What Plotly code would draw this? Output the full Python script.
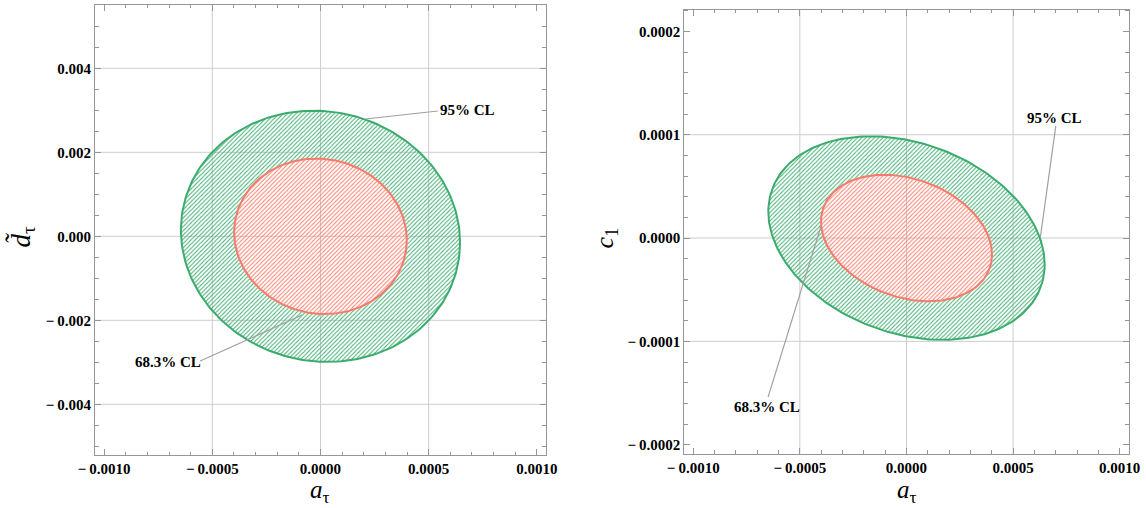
import numpy as np
import plotly.graph_objects as go

# ---------------- data ----------------
cl_labels = ["68.3% CL", "95% CL"]

# left panel: a_tau vs d~_tau  (centre, half-extent in x, half-extent in y, correlation)
left_center = (0.0, 0.0)
left_x_half = [0.000399, 0.000645]
left_y_half = [0.00185, 0.00299]
left_rho = -0.05

# right panel: a_tau vs c_1
right_center = (0.0, 0.0)
right_x_half = [0.000401, 0.000648]
right_y_half = [6.12e-05, 9.85e-05]
right_rho = -0.26

x_tickvals = [-0.0010, -0.0005, 0.0, 0.0005, 0.0010]
x_ticktext = ["\u2212\u20090.0010", "\u2212\u20090.0005", "0.0000", "0.0005", "0.0010"]
left_y_tickvals = [-0.004, -0.002, 0.0, 0.002, 0.004]
left_y_ticktext = ["\u2212\u20090.004", "\u2212\u20090.002", "0.000", "0.002", "0.004"]
right_y_tickvals = [-0.0002, -0.0001, 0.0, 0.0001, 0.0002]
right_y_ticktext = ["\u2212\u20090.0002", "\u2212\u20090.0001", "0.0000", "0.0001", "0.0002"]

left_x_grid = [-0.0005, 0.0, 0.0005]
left_y_grid = [-0.004, -0.002, 0.0, 0.002, 0.004]
right_x_grid = [-0.0005, 0.0, 0.0005]
right_y_grid = [-0.0001, 0.0, 0.0001]

# ---------------- styling ----------------
GREEN = "rgb(60,172,110)"
RED = "rgb(248,122,106)"
GRID = "rgb(205,205,205)"
FRAME = "rgb(150,150,150)"
FONT = "Liberation Serif"
CLEAR = "rgba(255,255,255,0.02)"


def ellipse(center, xh, yh, rho, n=240):
    t = np.linspace(0, 2 * np.pi, n)
    x = center[0] + xh * np.cos(t)
    y = center[1] + yh * (rho * np.cos(t) + np.sqrt(1 - rho ** 2) * np.sin(t))
    return x, y


fig = go.Figure()


def add_panel(xa, ya, center, xhs, yhs, rho):
    xi, yi = ellipse(center, xhs[0], yhs[0], rho)
    xo, yo = ellipse(center, xhs[1], yhs[1], rho)
    # green annulus (outer then inner reversed)
    ax = np.concatenate([xo, xi[::-1], [xo[0]]])
    ay = np.concatenate([yo, yi[::-1], [yo[0]]])
    fig.add_trace(go.Scatter(x=ax, y=ay, mode="lines", fill="toself", fillcolor=CLEAR,
                             line=dict(width=0, color=GREEN),
                             fillpattern=dict(shape="/", fgcolor=GREEN, bgcolor=CLEAR,
                                              fgopacity=1, size=3, solidity=0.34),
                             xaxis=xa, yaxis=ya, hoverinfo="skip", showlegend=False))
    fig.add_trace(go.Scatter(x=xi, y=yi, mode="lines", fill="toself", fillcolor=CLEAR,
                             line=dict(width=0, color=RED),
                             fillpattern=dict(shape="/", fgcolor=RED, bgcolor=CLEAR,
                                              fgopacity=1, size=3, solidity=0.34),
                             xaxis=xa, yaxis=ya, hoverinfo="skip", showlegend=False))
    fig.add_trace(go.Scatter(x=xo, y=yo, mode="lines", line=dict(width=2, color=GREEN),
                             xaxis=xa, yaxis=ya, hoverinfo="skip", showlegend=False))
    fig.add_trace(go.Scatter(x=xi, y=yi, mode="lines", line=dict(width=2, color=RED),
                             xaxis=xa, yaxis=ya, hoverinfo="skip", showlegend=False))


add_panel("x", "y", left_center, left_x_half, left_y_half, left_rho)
add_panel("x2", "y2", right_center, right_x_half, right_y_half, right_rho)

shapes = []
for xr, yr, gx, gy in [("x", "y", left_x_grid, left_y_grid),
                       ("x2", "y2", right_x_grid, right_y_grid)]:
    for v in gx:
        shapes.append(dict(type="line", xref=xr, yref=yr + " domain", x0=v, x1=v, y0=0, y1=1,
                           line=dict(color=GRID, width=1), layer="below"))
    for v in gy:
        shapes.append(dict(type="line", xref=xr + " domain", yref=yr, x0=0, x1=1, y0=v, y1=v,
                           line=dict(color=GRID, width=1), layer="below"))

# leader lines for the CL labels
LEAD = "rgb(160,160,160)"
leaders = [
    ("x", "y", 0.000542, 0.002983, 0.000208, 0.002793),
    ("x", "y", -0.000556, -0.002969, -0.0000847, -0.001874),
    ("x2", "y2", 0.000700, 0.0001084, 0.000628, 0.0000010),
    ("x2", "y2", -0.000649, -0.0001539, -0.000401, 0.0000116),
]
for xr, yr, x0, y0, x1, y1 in leaders:
    shapes.append(dict(type="line", xref=xr, yref=yr, x0=x0, y0=y0, x1=x1, y1=y1,
                       line=dict(color=LEAD, width=1.2)))

annotations = [
    dict(x=0.000681, y=0.003007, xref="x", yref="y", text=cl_labels[1]),
    dict(x=-0.000706, y=-0.002993, xref="x", yref="y", text=cl_labels[0]),
    dict(x=0.000695, y=0.0001162, xref="x2", yref="y2", text=cl_labels[1]),
    dict(x=-0.000654, y=-0.0001636, xref="x2", yref="y2", text=cl_labels[0]),
]
for a in annotations:
    a.update(showarrow=False, font=dict(family=FONT, size=15, color="black"),
             xanchor="center", yanchor="middle")
    a["text"] = "<b>" + a["text"] + "</b>"

annotations += [
    dict(x=0.2795, y=0.032, xref="paper", yref="paper", text="<i>a</i><sub>τ</sub>",
         showarrow=False, font=dict(family=FONT, size=25, color="black"),
         xanchor="center", yanchor="middle"),
    dict(x=0.7915, y=0.032, xref="paper", yref="paper", text="<i>a</i><sub>τ</sub>",
         showarrow=False, font=dict(family=FONT, size=25, color="black"),
         xanchor="center", yanchor="middle"),
    dict(x=0.0195, y=0.535, xref="paper", yref="paper", text="<i>d\u0303</i><sub>τ</sub>",
         showarrow=False, font=dict(family=FONT, size=27, color="black"), textangle=-90,
         xanchor="center", yanchor="middle"),
    dict(x=0.5285, y=0.532, xref="paper", yref="paper", text="<i>c</i><sub>1</sub>",
         showarrow=False, font=dict(family=FONT, size=26, color="black"), textangle=-90,
         xanchor="center", yanchor="middle"),
]

tickfont = dict(family=FONT, size=15, color="black")


def bold(lst):
    return ["<b>" + s + "</b>" for s in lst]


def xaxis(domain, anchor):
    return dict(domain=domain, anchor=anchor, range=[-0.001042, 0.001042], automargin=False,
                tickvals=x_tickvals, ticktext=bold(x_ticktext), tickfont=tickfont,
                ticks="inside", ticklen=6, tickcolor=FRAME, showline=True, linecolor=FRAME,
                linewidth=1, mirror="ticks", showgrid=False, zeroline=False,
                minor=dict(dtick=0.0001, tick0=0, ticks="inside", ticklen=3.5,
                           tickcolor=FRAME, showgrid=False))


def yaxis(domain, anchor, rng, tv, tt, mdt):
    return dict(domain=domain, anchor=anchor, range=rng, tickvals=tv, ticktext=bold(tt),
                tickfont=tickfont, ticks="inside", ticklen=6, tickcolor=FRAME, automargin=False,
                showline=True, linecolor=FRAME, linewidth=1, mirror="ticks",
                showgrid=False, zeroline=False,
                minor=dict(dtick=mdt, tick0=0, ticks="inside", ticklen=3.5,
                           tickcolor=FRAME, showgrid=False))


fig.update_layout(
    width=1146, height=508,
    margin=dict(l=0, r=0, t=0, b=0, autoexpand=False),
    paper_bgcolor="white", plot_bgcolor="white",
    xaxis=xaxis([0.0829, 0.4764], "y"),
    yaxis=yaxis([0.1043, 0.9902], "x", [-0.005207, 0.005507],
                left_y_tickvals, left_y_ticktext, 0.0005),
    xaxis2=xaxis([0.5971, 0.9849], "y2"),
    yaxis2=yaxis([0.1063, 0.9809], "x2", [-0.000209, 0.000221],
                 right_y_tickvals, right_y_ticktext, 0.00002),
    shapes=shapes,
    annotations=annotations,
    showlegend=False,
)

fig.write_html("out.html", config={"displayModeBar": False},
               post_script="document.body.style.margin='0';document.body.style.overflow='hidden';")
